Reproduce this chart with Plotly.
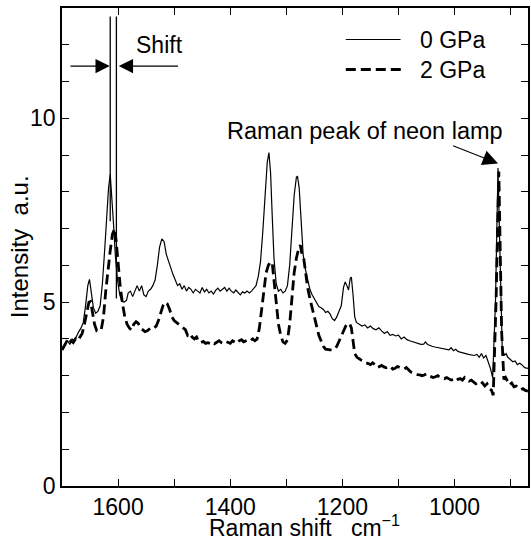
import plotly.graph_objects as go

# ---------------- data ----------------
wn_0gpa = [1700, 1695, 1690, 1686, 1682, 1678, 1674, 1670, 1666, 1662, 1658, 1654, 1651, 1648,
           1644, 1640, 1636, 1632, 1628, 1624, 1620, 1617, 1614, 1611, 1608, 1605, 1601, 1597,
           1593, 1589, 1585, 1582, 1578, 1574, 1570, 1566, 1562, 1558, 1554, 1550, 1546, 1542,
           1538, 1534, 1530, 1526, 1522, 1518, 1514, 1510, 1506, 1502, 1498, 1494, 1490, 1486,
           1482, 1478, 1474, 1470, 1466, 1462, 1458, 1454, 1450, 1446, 1442, 1438, 1434, 1430,
           1426, 1422, 1418, 1414, 1410, 1406, 1402, 1398, 1394, 1390, 1386, 1382, 1378, 1374,
           1370, 1366, 1362, 1358, 1354, 1350, 1346, 1342, 1338, 1334, 1331, 1328, 1325, 1322,
           1318, 1314, 1310, 1306, 1302, 1298, 1294, 1290, 1286, 1282, 1280, 1277, 1274, 1270,
           1266, 1262, 1258, 1254, 1250, 1246, 1242, 1238, 1234, 1230, 1226, 1222, 1218, 1214,
           1210, 1206, 1202, 1198, 1195, 1192, 1189, 1186, 1184, 1181, 1178, 1175, 1170, 1165,
           1160, 1155, 1150, 1145, 1140, 1135, 1130, 1125, 1120, 1115, 1110, 1105, 1100, 1095,
           1090, 1085, 1080, 1075, 1070, 1065, 1060, 1055, 1052, 1048, 1044, 1040, 1035, 1030,
           1025, 1020, 1015, 1010, 1006, 1002, 998, 994, 990, 985, 980, 975, 970, 965,
           960, 956, 952, 948, 944, 940, 936, 932, 927, 922.5, 918, 915, 911, 908,
           905, 900, 896, 892, 888, 884, 880, 875, 869]
int_0gpa = [3.75, 3.85, 3.95, 3.85, 4.0, 3.95, 4.1, 4.2, 4.3, 4.45, 4.9, 5.45, 5.62, 5.3,
            4.85, 4.7, 4.75, 4.9, 5.5, 6.4, 7.4, 8.1, 8.48, 7.9, 7.1, 6.3, 5.6, 5.2,
            5.02, 5.0, 5.05, 5.25, 5.3, 5.15, 5.3, 5.45, 5.3, 5.45, 5.2, 5.15, 5.3, 5.35,
            5.45, 5.6, 6.0, 6.5, 6.72, 6.65, 6.3, 6.1, 5.95, 5.75, 5.6, 5.45, 5.5, 5.35,
            5.45, 5.3, 5.4, 5.35, 5.25, 5.35, 5.3, 5.25, 5.4, 5.28, 5.35, 5.25, 5.3, 5.22,
            5.32, 5.38, 5.3, 5.35, 5.4, 5.3, 5.38, 5.3, 5.25, 5.33, 5.25, 5.2, 5.28, 5.25,
            5.3, 5.25, 5.3, 5.38, 5.45, 5.7, 6.1, 6.9, 7.9, 8.8, 9.07, 8.5, 7.3, 6.2,
            5.5, 5.3, 5.35, 5.25, 5.3, 5.45, 6.0, 7.0, 7.9, 8.4, 8.42, 8.1, 7.3, 6.3,
            5.9, 5.6, 5.35, 5.2, 5.1, 5.0, 4.88, 4.85, 4.8, 4.72, 4.75, 4.68, 4.55, 4.5,
            4.6, 4.75, 4.9, 5.4, 5.55, 5.45, 5.33, 5.65, 5.68, 5.2, 4.6, 4.45, 4.4, 4.35,
            4.38, 4.3, 4.35, 4.28, 4.25, 4.3, 4.22, 4.15, 4.2, 4.1, 4.12, 4.08, 4.1, 4.0,
            4.05, 3.98, 3.95, 3.92, 3.9, 3.88, 3.85, 3.86, 3.92, 3.85, 3.82, 3.8, 3.78, 3.76,
            3.74, 3.72, 3.72, 3.7, 3.76, 3.68, 3.72, 3.66, 3.64, 3.61, 3.6, 3.58, 3.56, 3.55,
            3.58, 3.5, 3.6, 3.48, 3.55, 3.4, 3.2, 2.95, 5.0, 8.65, 5.2, 3.75, 3.55, 3.6,
            3.5, 3.42, 3.38, 3.4, 3.3, 3.34, 3.3, 3.22, 3.2]

wn_2gpa = [1700, 1696, 1692, 1688, 1684, 1680, 1676, 1672, 1668, 1664, 1660, 1656, 1652, 1649,
           1646, 1642, 1638, 1634, 1630, 1626, 1622, 1618, 1614, 1610, 1606, 1603, 1600, 1596,
           1592, 1588, 1584, 1580, 1576, 1572, 1568, 1564, 1560, 1556, 1552, 1548, 1544, 1540,
           1536, 1532, 1528, 1524, 1520, 1516, 1512, 1508, 1504, 1500, 1496, 1492, 1488, 1484,
           1480, 1476, 1472, 1468, 1464, 1460, 1456, 1452, 1448, 1444, 1440, 1436, 1432, 1428,
           1424, 1420, 1416, 1412, 1408, 1404, 1400, 1396, 1392, 1388, 1384, 1380, 1376, 1372,
           1368, 1364, 1360, 1356, 1352, 1348, 1344, 1340, 1336, 1332, 1328, 1325, 1322, 1318,
           1314, 1310, 1306, 1302, 1298, 1294, 1290, 1286, 1282, 1278, 1275, 1272, 1269, 1266,
           1262, 1258, 1254, 1250, 1246, 1242, 1238, 1234, 1230, 1226, 1222, 1218, 1214, 1210,
           1206, 1202, 1198, 1194, 1190, 1187, 1184, 1181, 1178, 1174, 1170, 1166, 1162, 1158,
           1154, 1150, 1146, 1142, 1138, 1134, 1130, 1126, 1122, 1118, 1114, 1110, 1106, 1102,
           1098, 1094, 1090, 1086, 1082, 1078, 1074, 1070, 1066, 1062, 1058, 1054, 1050, 1046,
           1042, 1038, 1034, 1030, 1026, 1022, 1018, 1014, 1010, 1006, 1002, 998, 994, 990,
           986, 982, 978, 974, 970, 966, 962, 958, 954, 950, 946, 942, 938, 934,
           931, 926, 921, 916, 912, 909, 906, 902, 898, 894, 890, 886, 882, 878,
           874, 869]
int_2gpa = [3.7, 3.8, 3.92, 3.85, 3.95, 3.9, 4.0, 3.95, 4.05, 4.15, 4.4, 4.75, 5.0, 5.02,
            4.75, 4.4, 4.22, 4.22, 4.25, 4.6, 5.3, 5.9, 6.4, 6.85, 7.0, 6.6, 6.0, 5.4,
            4.95, 4.6, 4.4, 4.3, 4.24, 4.4, 4.47, 4.42, 4.3, 4.25, 4.2, 4.22, 4.28, 4.32,
            4.3, 4.35, 4.5, 4.7, 4.9, 5.0, 4.95, 4.8, 4.6, 4.5, 4.45, 4.4, 4.35, 4.3,
            4.25, 4.1, 4.15, 4.05, 4.0, 4.05, 3.92, 3.9, 3.93, 3.88, 3.9, 3.88, 3.92, 3.87,
            3.9, 3.95, 3.9, 3.88, 3.93, 3.9, 3.88, 3.95, 3.92, 3.88, 3.95, 3.98, 3.92, 3.95,
            3.98, 3.95, 4.0, 3.95, 4.0, 4.3, 4.8, 5.4, 5.8, 6.0, 6.1, 6.05, 5.6, 4.9,
            4.4, 4.1, 3.92, 3.88, 3.97, 4.4, 5.1, 5.8, 6.2, 6.45, 6.55, 6.3, 6.2, 5.8,
            5.4, 5.1, 4.87, 4.6, 4.35, 4.1, 3.95, 3.8, 3.72, 3.7, 3.7, 3.7, 3.72, 3.8,
            3.95, 4.1, 4.25, 4.35, 4.42, 4.42, 4.3, 3.9, 3.6, 3.5, 3.45, 3.42, 3.4, 3.35,
            3.33, 3.3, 3.35, 3.3, 3.22, 3.25, 3.28, 3.24, 3.22, 3.26, 3.24, 3.18, 3.2, 3.25,
            3.23, 3.2, 3.18, 3.22, 3.15, 3.1, 3.08, 3.05, 3.03, 3.02, 3.0, 3.02, 3.05, 3.0,
            2.98, 2.95, 2.97, 3.0, 2.96, 2.93, 2.92, 2.95, 2.92, 2.88, 2.9, 2.85, 2.9, 2.92,
            2.88, 2.95, 2.9, 2.85, 2.88, 2.82, 2.78, 2.82, 2.85, 2.8, 2.72, 2.78, 2.65, 2.6,
            2.47, 5.0, 8.55, 4.2, 2.9, 2.95, 2.85, 2.75, 2.8, 2.7, 2.72, 2.68, 2.62, 2.65,
            2.6, 2.58]

x_range = [1700, 869]
y_range = [0, 13]
x_major_ticks = [1600, 1400, 1200, 1000]
y_major_ticks = [0, 5, 10]

# ---------------- figure ----------------
FONT = "Liberation Sans, Arial, Helvetica, sans-serif"
W, H = 531, 539
L, R, T, B = 62, 1, 8, 53
PW, PH = W - L - R, H - T - B


def px(xp):
    return (xp - L) / PW


def py(yp):
    return (H - B - yp) / PH


fig = go.Figure()
fig.add_trace(go.Scatter(x=wn_0gpa, y=int_0gpa, mode="lines", name="0 GPa",
                         line=dict(color="black", width=1.2), showlegend=False))
fig.add_trace(go.Scatter(x=wn_2gpa, y=int_2gpa, mode="lines", name="2 GPa",
                         line=dict(color="black", width=2.8, dash="10px,5px"), showlegend=False))

axis_common = dict(showgrid=False, zeroline=False, showline=True, linecolor="black",
                   linewidth=1.6, ticks="inside", ticklen=7, tickwidth=1.2, tickcolor="black",
                   mirror="ticks", tickfont=dict(family=FONT, size=23, color="black"))

fig.update_xaxes(range=x_range, tickvals=x_major_ticks,
                 minor=dict(dtick=100, tick0=1000, ticks="inside", ticklen=7, tickwidth=1.2,
                            tickcolor="black", showgrid=False),
                 **axis_common)
fig.update_yaxes(range=y_range, tickvals=y_major_ticks,
                 minor=dict(dtick=1, tick0=0, ticks="inside", ticklen=7, tickwidth=1.2,
                            tickcolor="black", showgrid=False),
                 **axis_common)

# shift marker lines
shift_lines = [(1614, 7.2), (1603, 5.1)]
for xv, ybot in shift_lines:
    fig.add_shape(type="line", x0=xv, x1=xv, y0=ybot, y1=12.77, xref="x", yref="y",
                  line=dict(color="black", width=1.3))

annos = []
# shift arrows
annos.append(dict(x=1614.8, y=11.42, ax=1687.6, ay=11.42, xref="x", yref="y", axref="x", ayref="y",
                  text="", showarrow=True, arrowhead=2, arrowsize=2.6, arrowwidth=1.1,
                  arrowcolor="black"))
annos.append(dict(x=1598.8, y=11.42, ax=1490.5, ay=11.42, xref="x", yref="y", axref="x", ayref="y",
                  text="", showarrow=True, arrowhead=2, arrowsize=2.6, arrowwidth=1.1,
                  arrowcolor="black"))
# neon arrow
annos.append(dict(x=922.4, y=8.77, ax=1005.3, ay=9.27, xref="x", yref="y", axref="x", ayref="y",
                  text="", showarrow=True, arrowhead=2, arrowsize=2.8, arrowwidth=1.1,
                  arrowcolor="black"))

textfont = dict(family=FONT, size=23, color="black")
annos.append(dict(x=px(134), y=py(45), xref="paper", yref="paper", text="Shift", showarrow=False,
                  xanchor="left", yanchor="middle", font=textfont))
annos.append(dict(x=px(366.7), y=py(131), xref="paper", yref="paper", text="Raman peak of neon lamp",
                  showarrow=False, xanchor="center", yanchor="middle",
                  font=dict(family=FONT, size=23.5, color="black")))
annos.append(dict(x=px(420), y=py(40), xref="paper", yref="paper", text="0 GPa", showarrow=False,
                  xanchor="left", yanchor="middle", font=textfont))
annos.append(dict(x=px(420), y=py(70), xref="paper", yref="paper", text="2 GPa", showarrow=False,
                  xanchor="left", yanchor="middle", font=textfont))
annos.append(dict(x=px(305.5), y=py(526), xref="paper", yref="paper",
                  text="Raman shift   cm<sup>\u22121</sup>", showarrow=False,
                  xanchor="center", yanchor="middle", font=textfont))
annos.append(dict(x=px(19), y=py(247), xref="paper", yref="paper", text="Intensity  a.u.",
                  showarrow=False, textangle=-90, xanchor="center", yanchor="middle",
                  font=dict(family=FONT, size=24, color="black")))

# manual legend samples
fig.add_shape(type="line", xref="paper", yref="paper", x0=px(347), x1=px(402), y0=py(39.5), y1=py(39.5),
              line=dict(color="black", width=1.2))
fig.add_shape(type="line", xref="paper", yref="paper", x0=px(347), x1=px(403), y0=py(69.5), y1=py(69.5),
              line=dict(color="black", width=2.8, dash="10px,5px"))

fig.update_layout(width=W, height=H, margin=dict(l=L, r=R, t=T, b=B, pad=0),
                  paper_bgcolor="white", plot_bgcolor="white", annotations=annos,
                  font=dict(family=FONT, color="black"), showlegend=False)

fig.write_html("out.html", config={"displayModeBar": False},
               post_script="document.body.style.margin='0';document.body.style.overflow='hidden';")
